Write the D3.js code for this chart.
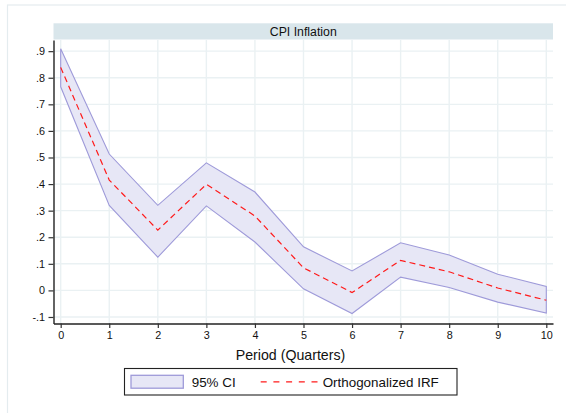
<!DOCTYPE html>
<html>
<head>
<meta charset="utf-8">
<script src="https://cdn.jsdelivr.net/npm/d3@7"></script>
<style>
  html, body { margin: 0; padding: 0; background: #fff; }
  svg { display: block; font-family: "Liberation Sans", Arial, sans-serif; }
</style>
</head>
<body>
<svg id="chart" width="566" height="413"></svg>
<script>
// Impulse response of CPI inflation, periods 0..10 (quarters)
const periods = [0, 1, 2, 3, 4, 5, 6, 7, 8, 9, 10];
const irf     = [0.839, 0.415, 0.227, 0.399, 0.280, 0.085, -0.008, 0.113, 0.070, 0.009, -0.037];
const ciUpper = [0.909, 0.513, 0.320, 0.480, 0.370, 0.164, 0.073, 0.179, 0.133, 0.061, 0.015];
const ciLower = [0.766, 0.320, 0.125, 0.318, 0.182, 0.006, -0.087, 0.050, 0.011, -0.044, -0.085];

const yTickValues = [-0.1, 0, 0.1, 0.2, 0.3, 0.4, 0.5, 0.6, 0.7, 0.8, 0.9];
const yTickLabels = ["-.1", "0", ".1", ".2", ".3", ".4", ".5", ".6", ".7", ".8", ".9"];
const xTickValues = periods;

const panelTitle = "CPI Inflation";
const xTitle = "Period (Quarters)";
const legendLabels = ["95% CI", "Orthogonalized IRF"];

const svg = d3.select("#chart");

// plot region
const box = { left: 53.5, right: 553, top: 40, bottom: 323.5 };

const x = d3.scaleLinear().domain([-0.148, 10.138]).range([box.left, box.right]);
const y = d3.scaleLinear().domain([-0.1245, 0.942]).range([box.bottom, box.top]);

// outer graph frame
svg.append("rect")
  .attr("x", 7.5).attr("y", 5).attr("width", 600).attr("height", 450)
  .attr("fill", "#fff").attr("stroke", "#e4ecef").attr("stroke-width", 1.2);

// panel header strip
svg.append("rect")
  .attr("x", box.left).attr("y", 23.3)
  .attr("width", box.right - box.left).attr("height", 16.2)
  .attr("fill", "#d9e6eb");
svg.append("text")
  .attr("x", (box.left + box.right) / 2).attr("y", 35.5)
  .attr("text-anchor", "middle")
  .attr("font-size", "12.3px").attr("fill", "#111")
  .text(panelTitle);

// grid
const grid = svg.append("g").attr("stroke", "#eaf1f3").attr("stroke-width", 1.4);
grid.selectAll("line.h").data(yTickValues).join("line")
  .attr("x1", box.left).attr("x2", box.right)
  .attr("y1", d => y(d)).attr("y2", d => y(d));
grid.selectAll("line.v").data(xTickValues).join("line")
  .attr("y1", box.top).attr("y2", box.bottom)
  .attr("x1", d => x(d)).attr("x2", d => x(d));

// confidence band
const rows = periods.map((p, i) => ({ p, lo: ciLower[i], hi: ciUpper[i], v: irf[i] }));
const band = d3.area()
  .x(d => x(d.p))
  .y0(d => y(d.lo))
  .y1(d => y(d.hi));
svg.append("path")
  .datum(rows)
  .attr("d", d => band(d) + "Z")
  .attr("fill", "#e7e7f6")
  .attr("stroke", "#9e9ad9")
  .attr("stroke-width", 1.1)
  .attr("stroke-linejoin", "miter");

// IRF line
const line = d3.line().x(d => x(d.p)).y(d => y(d.v));
svg.append("path")
  .datum(rows)
  .attr("d", line)
  .attr("fill", "none")
  .attr("stroke", "#ff1a1a")
  .attr("stroke-width", 1.2)
  .attr("stroke-dasharray", "6,4");

// axes
const yAxis = d3.axisLeft(y)
  .tickValues(yTickValues)
  .tickFormat((d, i) => yTickLabels[i])
  .tickSizeInner(5).tickSizeOuter(0).tickPadding(3.5);
const xAxis = d3.axisBottom(x)
  .tickValues(xTickValues)
  .tickFormat(d3.format("d"))
  .tickSizeInner(4.5).tickSizeOuter(0).tickPadding(3);

const gy = svg.append("g").attr("transform", `translate(${box.left},0)`).call(yAxis);
const gx = svg.append("g").attr("transform", `translate(0,${box.bottom})`).call(xAxis);
[gy, gx].forEach(g => {
  g.select(".domain").attr("stroke", "#222").attr("stroke-width", 1.4);
  g.selectAll(".tick line").attr("stroke", "#333").attr("stroke-width", 1.2);
  g.selectAll(".tick text")
    .attr("fill", "#111")
    .style("font-family", "\"Liberation Sans\", Arial, sans-serif")
    .style("font-size", "10.8px");
});

// x axis title
svg.append("text")
  .attr("x", 290.5).attr("y", 360)
  .attr("text-anchor", "middle")
  .attr("font-size", "14.2px").attr("fill", "#111")
  .text(xTitle);

// legend
const lg = svg.append("g");
lg.append("rect")
  .attr("x", 124.5).attr("y", 368.5).attr("width", 332.5).attr("height", 26.5)
  .attr("fill", "#fff").attr("stroke", "#222").attr("stroke-width", 1.1);
lg.append("rect")
  .attr("x", 131).attr("y", 375.3).attr("width", 52.3).attr("height", 12.9)
  .attr("fill", "#e7e7f6").attr("stroke", "#9e9ad9").attr("stroke-width", 1.3);
lg.append("text")
  .attr("x", 191.7).attr("y", 386.5)
  .attr("font-size", "13.4px").attr("fill", "#111")
  .text(legendLabels[0]);
lg.append("line")
  .attr("x1", 260.7).attr("x2", 318).attr("y1", 381.8).attr("y2", 381.8)
  .attr("stroke", "#ff1a1a").attr("stroke-width", 1.2)
  .attr("stroke-dasharray", "6,6.7");
lg.append("text")
  .attr("x", 322.7).attr("y", 386.5)
  .attr("font-size", "13.4px").attr("fill", "#111")
  .text(legendLabels[1]);
</script>
</body>
</html>
